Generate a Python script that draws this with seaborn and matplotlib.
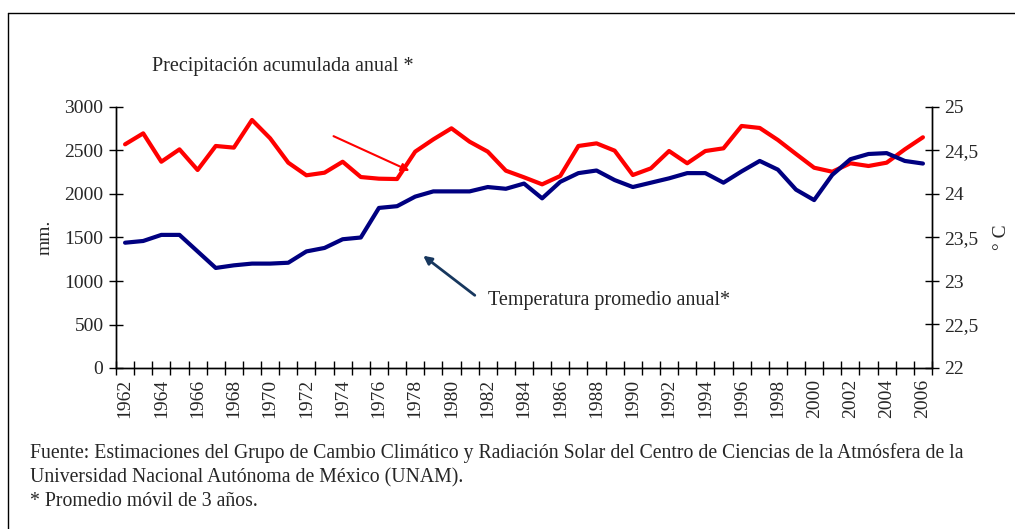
import numpy as np
import pandas as pd
import seaborn as sns
import matplotlib.pyplot as plt
from matplotlib.lines import Line2D
from matplotlib.ticker import FixedLocator, NullFormatter

years = list(range(1962, 2007))
precip_mm = [2571, 2697, 2371, 2513, 2276, 2552, 2533, 2851, 2640, 2360, 2215, 2245, 2371, 2195, 2176,
             2172, 2487, 2628, 2755, 2601, 2487, 2268, 2192, 2111, 2207, 2552, 2582, 2498, 2218,
             2295, 2494, 2353, 2494, 2525, 2782, 2759, 2621, 2460, 2302, 2256, 2353, 2322, 2360, 2513, 2652]
temp_c = [23.44, 23.46, 23.53, 23.53, 23.34, 23.15, 23.18, 23.20, 23.20, 23.21, 23.34, 23.38, 23.48, 23.50, 23.84,
          23.86, 23.97, 24.03, 24.03, 24.03, 24.08, 24.06, 24.12, 23.95, 24.14, 24.24, 24.27, 24.16, 24.08,
          24.13, 24.18, 24.24, 24.24, 24.13, 24.26, 24.38, 24.28, 24.05, 23.93, 24.22, 24.40, 24.46, 24.47, 24.38, 24.35]
year_labels = [str(y) if (y - 1962) % 2 == 0 else "" for y in years]

df = pd.DataFrame({"idx": np.arange(len(years)), "precip": precip_mm, "temp": temp_c})

sns.set_theme(style="white")
plt.rcParams['font.family'] = ['Liberation Serif', 'DejaVu Serif']

fig = plt.figure(figsize=(10.15, 5.29), dpi=100)
ax = fig.add_axes([116 / 1015, 1 - 368 / 529, (932 - 116) / 1015, (368 - 107) / 529])
ax2 = ax.twinx()

sns.lineplot(data=df, x="idx", y="precip", ax=ax, color="#FF0000", linewidth=3.0)
sns.lineplot(data=df, x="idx", y="temp", ax=ax2, color="#000080", linewidth=3.0)

ax.set_xlim(-0.5, len(years) - 0.5)
ax.set_ylim(0, 3000)
ax2.set_ylim(22, 25)
ax.set_yticks(range(0, 3001, 500))
ax.set_yticklabels([str(v) for v in range(0, 3001, 500)], fontsize=14)
t_ticks = [22, 22.5, 23, 23.5, 24, 24.5, 25]
ax2.set_yticks(t_ticks)
ax2.set_yticklabels([("%g" % t).replace(".", ",") for t in t_ticks], fontsize=14)

ax.xaxis.set_major_locator(FixedLocator(np.arange(-0.5, len(years), 1.0)))
ax.xaxis.set_major_formatter(NullFormatter())
ax.xaxis.set_minor_locator(FixedLocator(np.arange(0, len(years), 2)))
ax.set_xticklabels([year_labels[i] for i in range(0, len(years), 2)], minor=True, rotation=90, fontsize=14)
ax.tick_params(axis="x", which="major", direction="inout", length=10, width=1, color="black", bottom=True)
ax.tick_params(axis="x", which="minor", length=0, pad=8, bottom=True)
ax.tick_params(axis="y", direction="inout", length=10, width=1, color="black", left=True, pad=4)
ax2.tick_params(axis="y", direction="inout", length=10, width=1, color="black", right=True, pad=4)

ax.set_xlabel("")
ax.set_ylabel("mm.", fontsize=14, labelpad=8)
ax2.set_ylabel("° C", fontsize=14, labelpad=10)

for a in (ax, ax2):
    a.spines["top"].set_visible(False)
    for s in ("left", "right", "bottom"):
        a.spines[s].set_color("black")
        a.spines[s].set_linewidth(1.0)
ax.grid(False)
ax2.grid(False)

fig.text(152 / 1015, 1 - 67 / 529, "Precipitación acumulada anual *", fontsize=14.5, va="center", ha="left")
fig.text(488 / 1015, 1 - 301 / 529, "Temperatura promedio anual*", fontsize=14.5, va="center", ha="left")

ax.annotate("", xy=(412, 529 - 172), xycoords="figure pixels", xytext=(331, 529 - 135),
            textcoords="figure pixels",
            arrowprops=dict(arrowstyle="-|>", color="#FF0000", lw=1.5, mutation_scale=12))
ax.annotate("", xy=(421, 529 - 254), xycoords="figure pixels", xytext=(477, 529 - 297),
            textcoords="figure pixels",
            arrowprops=dict(arrowstyle="-|>", color="#17375E", lw=2, mutation_scale=12))

foot = ["Fuente: Estimaciones del Grupo de Cambio Climático y Radiación Solar del Centro de Ciencias de la Atmósfera de la",
        "Universidad Nacional Autónoma de México (UNAM).",
        "* Promedio móvil de 3 años."]
for k, line in enumerate(foot):
    fig.text(30 / 1015, 1 - (453 + 24.5 * k) / 529, line, fontsize=14.2, va="center", ha="left")

# outer frame (top and left edges visible)
fig.add_artist(Line2D([8 / 1015, 8 / 1015], [0, 1 - 13 / 529], transform=fig.transFigure, color="black", lw=1))
fig.add_artist(Line2D([8 / 1015, 1], [1 - 13 / 529, 1 - 13 / 529], transform=fig.transFigure, color="black", lw=1))

fig.savefig("out.png", dpi=100)
